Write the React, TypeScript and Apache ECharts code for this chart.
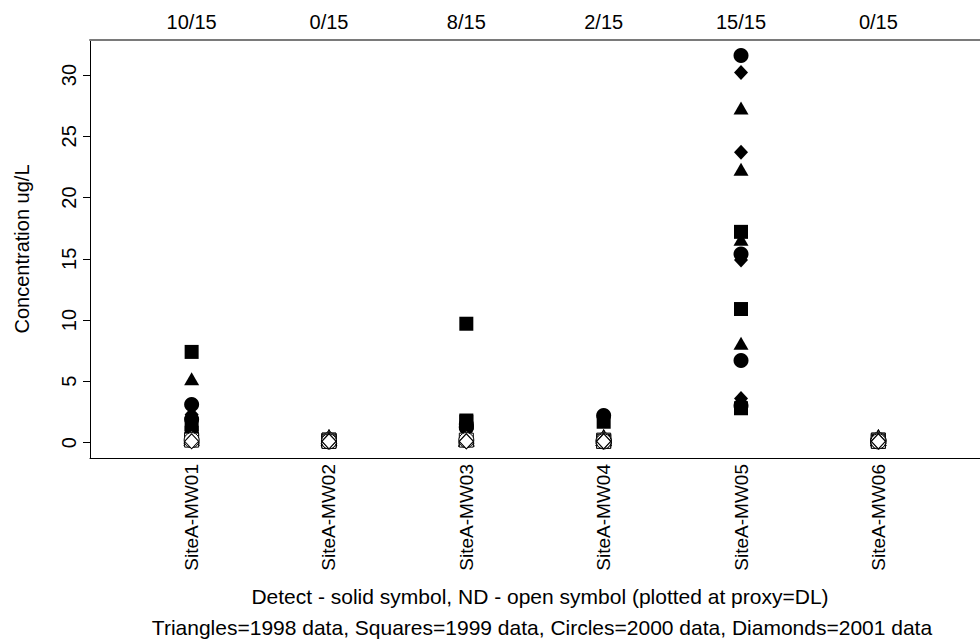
import React, { useEffect, useRef } from "react";
import * as echarts from "echarts";

const sites = ["SiteA-MW01", "SiteA-MW02", "SiteA-MW03", "SiteA-MW04", "SiteA-MW05", "SiteA-MW06"];
const detectRatio = ["10/15", "0/15", "8/15", "2/15", "15/15", "0/15"];
const yTicks = [0, 5, 10, 15, 20, 25, 30];
const sitePositions = [1, 2, 3, 4, 5, 6];

// values per site (detects = solid symbols, non-detects = open symbols at DL)
const triangleDetect = [[5.2, 1.3], [], [1.6], [], [27.3, 22.3, 16.6, 8.1], []];
const triangleND = [[0.5, 0.3], [0.5, 0.5, 0.3, 0.3], [0.5, 0.3, 0.2], [0.5, 0.5, 0.3, 0.3], [], [0.5, 0.5, 0.3, 0.3]];
const squareDetect = [[7.4, 1.5, 0.8], [], [9.7, 1.8, 1.7], [1.7], [17.2, 10.9, 2.8], []];
const squareND = [[0.2], [0.2, 0.2, 0.1, 0.1], [0.2], [0.2, 0.1, 0.1], [], [0.2, 0.2, 0.1, 0.1]];
const circleDetect = [[3.1, 1.9, 0.6], [], [1.5, 1.3, 1.2], [2.2], [31.6, 15.4, 6.7, 3.0], []];
const circleND = [[0.2], [0.2, 0.2, 0.1, 0.1], [0.2], [0.2, 0.1, 0.1], [], [0.2, 0.2, 0.1, 0.1]];
const diamondDetect = [[2.3, 1.0], [], [1.4], [], [30.2, 23.7, 14.9, 3.6], []];
const diamondND = [[0.1], [0.1, 0.1, 0.1], [0.1, 0.1], [0.1, 0.1, 0.1], [], [0.1, 0.1, 0.1]];

const FONT = "Liberation Sans, Arial, sans-serif";

const toData = (arr: number[][]) =>
  arr.flatMap((vals, i) => vals.map((v) => [sitePositions[i], v]));

const solid = (name: string, symbol: string, size: any, arr: number[][]) => ({
  name,
  type: "scatter",
  symbol,
  symbolSize: size,
  data: toData(arr),
  itemStyle: { color: "#000", opacity: 1 },
  emphasis: { disabled: true },
});
const open = (name: string, symbol: string, size: any, arr: number[][]) => ({
  name,
  type: "scatter",
  symbol,
  symbolSize: size,
  data: toData(arr),
  itemStyle: { color: "#fff", borderColor: "#000", borderWidth: 1, opacity: 1 },
  emphasis: { disabled: true },
});

export default function App() {
  const ref = useRef<HTMLDivElement>(null);
  useEffect(() => {
    if (!ref.current) return;
    const chart = echarts.init(ref.current, undefined, { renderer: "svg" });
    chart.setOption({
      animation: false,
      backgroundColor: "#fff",
      textStyle: { fontFamily: FONT },
      grid: { left: 90, top: 40, width: 901, height: 418, containLabel: false },
      xAxis: [
        {
          type: "value",
          position: "bottom",
          min: 0.26,
          max: 6.74,
          splitLine: { show: false },
          axisLine: { show: true, onZero: false, lineStyle: { color: "#000", width: 1 } },
          axisTick: { show: false },
          axisLabel: {
            customValues: sitePositions,
            rotate: 90,
            margin: 6,
            fontSize: 19,
            color: "#000",
            fontFamily: FONT,
            formatter: (v: number) => sites[Math.round(v) - 1] ?? "",
          },
        },
        {
          type: "value",
          position: "top",
          min: 0.26,
          max: 6.74,
          splitLine: { show: false },
          axisLine: { show: true, onZero: false, lineStyle: { color: "#7a7a7a", width: 2 } },
          axisTick: { show: false },
          axisLabel: {
            customValues: sitePositions,
            margin: 8,
            fontSize: 20,
            color: "#000",
            fontFamily: FONT,
            formatter: (v: number) => detectRatio[Math.round(v) - 1] ?? "",
          },
        },
      ],
      yAxis: {
        type: "value",
        min: -1.26,
        max: 32.86,
        name: "Concentration ug/L",
        nameLocation: "middle",
        nameRotate: 90,
        nameGap: 58,
        nameTextStyle: { fontSize: 20, color: "#000", fontFamily: FONT },
        splitLine: { show: false },
        axisLine: { show: true, onZero: false, lineStyle: { color: "#000", width: 1 } },
        axisTick: { show: true, customValues: yTicks, length: 7, lineStyle: { color: "#000" } },
        axisLabel: {
          customValues: yTicks,
          rotate: 90,
          margin: 11,
          fontSize: 20,
          color: "#000",
          fontFamily: FONT,
        },
      },
      graphic: [
        {
          type: "text",
          x: 540,
          y: 596,
          style: {
            text: "Detect - solid symbol, ND - open symbol (plotted at proxy=DL)",
            fontSize: 21,
            fontFamily: FONT,
            fill: "#000",
            align: "center",
            verticalAlign: "middle",
          },
        },
        {
          type: "text",
          x: 542,
          y: 627,
          style: {
            text: "Triangles=1998 data, Squares=1999 data, Circles=2000 data, Diamonds=2001 data",
            fontSize: 21,
            fontFamily: FONT,
            fill: "#000",
            align: "center",
            verticalAlign: "middle",
          },
        },
      ],
      series: [
        solid("Triangles 1998", "triangle", [15, 13], triangleDetect),
        solid("Squares 1999", "rect", 14, squareDetect),
        solid("Circles 2000", "circle", 15, circleDetect),
        solid("Diamonds 2001", "diamond", [14, 15], diamondDetect),
        open("Triangles 1998 ND", "triangle", [15, 13], triangleND),
        open("Squares 1999 ND", "rect", 14, squareND),
        open("Circles 2000 ND", "circle", 15, circleND),
        open("Diamonds 2001 ND", "diamond", [14, 15], diamondND),
      ],
    });
    return () => chart.dispose();
  }, []);
  return (
    <div
      ref={ref}
      style={{ position: "fixed", left: 0, top: 0, width: 980, height: 639, background: "#fff" }}
    />
  );
}
